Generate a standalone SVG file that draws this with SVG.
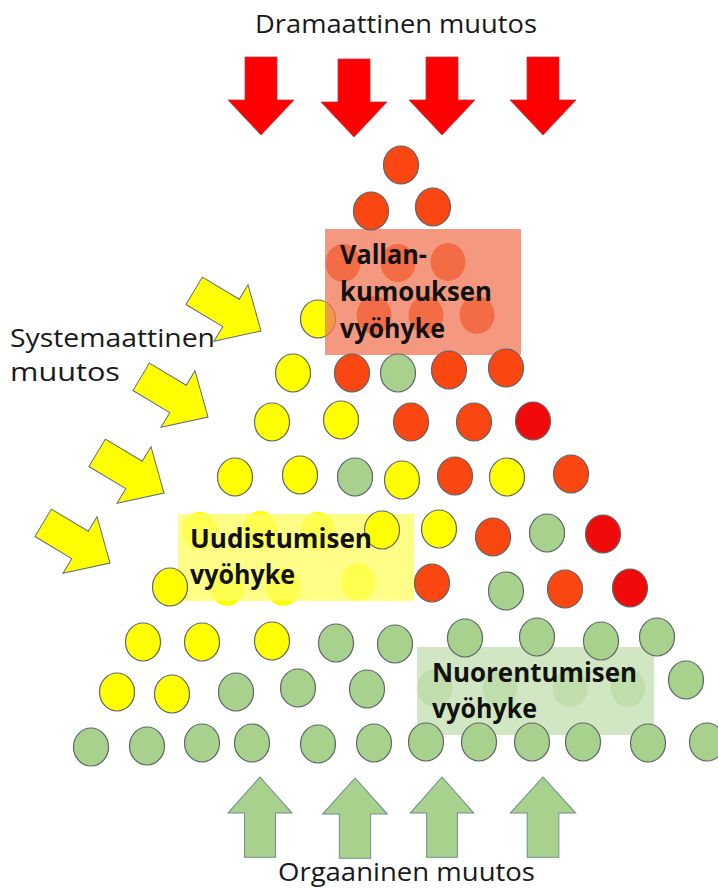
<svg xmlns="http://www.w3.org/2000/svg" width="718" height="890" viewBox="0 0 718 890">
  <style>
    .lbl { font-family: "Open Sans", "Noto Sans", "Liberation Sans", sans-serif; font-size: 25px; fill: #1a1a1a; }
    .zone { font-family: "Open Sans", "Noto Sans", "Liberation Sans", sans-serif; font-size: 26px; font-weight: 700; fill: #111; }
    ellipse { stroke: #5d6668; stroke-width: 1.2; }
    #dots-under ellipse.hidden { stroke: none; }
    .r { fill: #fa4610; }
    .br { fill: #f00a0a; }
    .y { fill: #ffff00; }
    .g { fill: #a9d18e; }
    .ar-red { fill: #ff0000; stroke: #b23a48; stroke-width: 0.8; }
    .ar-green { fill: #a9d18e; stroke: #6f8f85; stroke-width: 1; }
    .ar-yellow { fill: #ffff00; stroke: #5f6b80; stroke-width: 1; }
  </style>
  <defs>
    <!-- block arrow pointing right, tip at the origin -->
    <path id="blockArrow" d="M-78,-16 L-35,-16 L-35,-33 L0,0 L-35,33 L-35,16 L-78,16 Z"/>
  </defs>

  <rect width="718" height="890" fill="#ffffff"/>

  <!-- captions -->
  <g id="label-dramatic">
    <text class="lbl" x="255" y="33" textLength="282" lengthAdjust="spacingAndGlyphs">Dramaattinen muutos</text>
  </g>
  <g id="label-systematic">
    <text class="lbl" x="10" y="347" textLength="205" lengthAdjust="spacingAndGlyphs">Systemaattinen</text>
    <text class="lbl" x="10" y="381" textLength="110" lengthAdjust="spacingAndGlyphs">muutos</text>
  </g>
  <g id="label-organic">
    <text class="lbl" x="278" y="881" textLength="257" lengthAdjust="spacingAndGlyphs">Orgaaninen muutos</text>
  </g>

  <!-- pressure arrows -->
  <g id="arrows">
    <g id="arrows-down">
      <use href="#blockArrow" class="ar-red" transform="translate(261,135) rotate(90)"/>
      <use href="#blockArrow" class="ar-red" transform="translate(354,137) rotate(90)"/>
      <use href="#blockArrow" class="ar-red" transform="translate(442,135) rotate(90)"/>
      <use href="#blockArrow" class="ar-red" transform="translate(543,135) rotate(90)"/>
    </g>
    <g id="arrows-diagonal">
      <use href="#blockArrow" class="ar-yellow" transform="translate(261,331) rotate(31)"/>
      <use href="#blockArrow" class="ar-yellow" transform="translate(208,417) rotate(31)"/>
      <use href="#blockArrow" class="ar-yellow" transform="translate(164,493) rotate(31)"/>
      <use href="#blockArrow" class="ar-yellow" transform="translate(110,563) rotate(31)"/>
    </g>
    <g id="arrows-up">
      <use href="#blockArrow" class="ar-green" transform="translate(260,777) rotate(-90) scale(1.03,0.97)"/>
      <use href="#blockArrow" class="ar-green" transform="translate(355,778) rotate(-90) scale(1.03,0.98)"/>
      <use href="#blockArrow" class="ar-green" transform="translate(442,777) rotate(-90) scale(1.03,0.96)"/>
      <use href="#blockArrow" class="ar-green" transform="translate(543,777) rotate(-90) scale(1.03,0.99)"/>
    </g>
  </g>

  <!-- circles lying beneath the zone panels -->
  <g id="dots-under">
    <!-- row 3 (revolution zone) -->
    <ellipse class="r hidden" cx="343" cy="263" rx="17.5" ry="19"/>
    <ellipse class="r hidden" cx="398" cy="263" rx="17.5" ry="19"/>
    <ellipse class="r hidden" cx="448" cy="262" rx="17.5" ry="19"/>
    <!-- row 4 -->
    <ellipse class="y" cx="318" cy="319" rx="17.5" ry="19"/>
    <ellipse class="r hidden" cx="374" cy="315" rx="17.5" ry="19"/>
    <ellipse class="r hidden" cx="426" cy="315" rx="17.5" ry="19"/>
    <ellipse class="r hidden" cx="477" cy="315" rx="17.5" ry="19"/>
    <!-- rows 8-9 (renewal zone) -->
    <ellipse class="y hidden" cx="200" cy="531" rx="17.5" ry="19"/>
    <ellipse class="y hidden" cx="260" cy="530" rx="17.5" ry="19"/>
    <ellipse class="y hidden" cx="318" cy="531" rx="17.5" ry="19"/>
    <ellipse class="y hidden" cx="227" cy="587" rx="17.5" ry="19"/>
    <ellipse class="y hidden" cx="283" cy="587" rx="17.5" ry="19"/>
    <ellipse class="y hidden" cx="358" cy="582" rx="17.5" ry="19"/>
    <!-- row 11 (rejuvenation zone) -->
    <ellipse class="g hidden" cx="435" cy="688" rx="17.5" ry="19"/>
    <ellipse class="g hidden" cx="500" cy="688" rx="17.5" ry="19"/>
    <ellipse class="g hidden" cx="570" cy="688" rx="17.5" ry="19"/>
    <ellipse class="g hidden" cx="628" cy="688" rx="17.5" ry="19"/>
  </g>

  <!-- zone panels -->
  <g id="zone-revolution">
    <rect x="325" y="229" width="196" height="126" fill="#f17958" fill-opacity="0.76"/>
    <text class="zone" x="340" y="264" textLength="87" lengthAdjust="spacingAndGlyphs">Vallan-</text>
    <text class="zone" x="340" y="301" textLength="152" lengthAdjust="spacingAndGlyphs">kumouksen</text>
    <text class="zone" x="340" y="338" textLength="105" lengthAdjust="spacingAndGlyphs">vyöhyke</text>
  </g>
  <g id="zone-renewal">
    <rect x="178" y="514" width="236" height="87" fill="#ffff66" fill-opacity="0.78"/>
  </g>
  <g id="zone-rejuvenation">
    <rect x="417" y="647" width="237" height="88" fill="#c5e0b4" fill-opacity="0.8"/>
  </g>

  <!-- circles in front -->
  <g id="dots">
    <!-- row 1 -->
    <ellipse class="r" cx="401" cy="165" rx="17.5" ry="19"/>
    <!-- row 2 -->
    <ellipse class="r" cx="371" cy="211" rx="17.5" ry="19"/>
    <ellipse class="r" cx="433" cy="207" rx="17.5" ry="19"/>
    <!-- row 5 -->
    <ellipse class="y" cx="293" cy="373" rx="17.5" ry="19"/>
    <ellipse class="r" cx="352" cy="373" rx="17.5" ry="19"/>
    <ellipse class="g" cx="398" cy="373" rx="17.5" ry="19"/>
    <ellipse class="r" cx="449" cy="370" rx="17.5" ry="19"/>
    <ellipse class="r" cx="506" cy="368" rx="17.5" ry="19"/>
    <!-- row 6 -->
    <ellipse class="y" cx="272" cy="422" rx="17.5" ry="19"/>
    <ellipse class="y" cx="341" cy="420" rx="17.5" ry="19"/>
    <ellipse class="r" cx="411" cy="422" rx="17.5" ry="19"/>
    <ellipse class="r" cx="474" cy="422" rx="17.5" ry="19"/>
    <ellipse class="br" cx="533" cy="421" rx="17.5" ry="19"/>
    <!-- row 7 -->
    <ellipse class="y" cx="235" cy="477" rx="17.5" ry="19"/>
    <ellipse class="y" cx="300" cy="475" rx="17.5" ry="19"/>
    <ellipse class="g" cx="355" cy="477" rx="17.5" ry="19"/>
    <ellipse class="y" cx="402" cy="480" rx="17.5" ry="19"/>
    <ellipse class="r" cx="455" cy="476" rx="17.5" ry="19"/>
    <ellipse class="y" cx="507" cy="477" rx="17.5" ry="19"/>
    <ellipse class="r" cx="571" cy="474" rx="17.5" ry="19"/>
    <!-- row 8 -->
    <ellipse class="y" cx="382" cy="530" rx="17.5" ry="19"/>
    <ellipse class="y" cx="439" cy="529" rx="17.5" ry="19"/>
    <ellipse class="r" cx="493" cy="537" rx="17.5" ry="19"/>
    <ellipse class="g" cx="547" cy="533" rx="17.5" ry="19"/>
    <ellipse class="br" cx="603" cy="534" rx="17.5" ry="19"/>
    <!-- row 9 -->
    <ellipse class="y" cx="170" cy="587" rx="17.5" ry="19"/>
    <ellipse class="r" cx="432" cy="583" rx="17.5" ry="19"/>
    <ellipse class="g" cx="506" cy="591" rx="17.5" ry="19"/>
    <ellipse class="r" cx="565" cy="589" rx="17.5" ry="19"/>
    <ellipse class="br" cx="630" cy="588" rx="17.5" ry="19"/>
    <!-- row 10 -->
    <ellipse class="y" cx="143" cy="642" rx="17.5" ry="19"/>
    <ellipse class="y" cx="202" cy="642" rx="17.5" ry="19"/>
    <ellipse class="y" cx="272" cy="641" rx="17.5" ry="19"/>
    <ellipse class="g" cx="336" cy="643" rx="17.5" ry="19"/>
    <ellipse class="g" cx="395" cy="644" rx="17.5" ry="19"/>
    <ellipse class="g" cx="465" cy="638" rx="17.5" ry="19"/>
    <ellipse class="g" cx="537" cy="637" rx="17.5" ry="19"/>
    <ellipse class="g" cx="601" cy="641" rx="17.5" ry="19"/>
    <ellipse class="g" cx="657" cy="637" rx="17.5" ry="19"/>
    <!-- row 11 -->
    <ellipse class="y" cx="117" cy="692" rx="17.5" ry="19"/>
    <ellipse class="y" cx="172" cy="694" rx="17.5" ry="19"/>
    <ellipse class="g" cx="236" cy="692" rx="17.5" ry="19"/>
    <ellipse class="g" cx="298" cy="688" rx="17.5" ry="19"/>
    <ellipse class="g" cx="367" cy="689" rx="17.5" ry="19"/>
    <ellipse class="g" cx="686" cy="680" rx="17.5" ry="19"/>
    <!-- row 12 -->
    <ellipse class="g" cx="91" cy="747" rx="17.5" ry="19"/>
    <ellipse class="g" cx="147" cy="746" rx="17.5" ry="19"/>
    <ellipse class="g" cx="202" cy="743" rx="17.5" ry="19"/>
    <ellipse class="g" cx="252" cy="743" rx="17.5" ry="19"/>
    <ellipse class="g" cx="318" cy="744" rx="17.5" ry="19"/>
    <ellipse class="g" cx="374" cy="743" rx="17.5" ry="19"/>
    <ellipse class="g" cx="426" cy="742" rx="17.5" ry="19"/>
    <ellipse class="g" cx="479" cy="742" rx="17.5" ry="19"/>
    <ellipse class="g" cx="532" cy="742" rx="17.5" ry="19"/>
    <ellipse class="g" cx="583" cy="742" rx="17.5" ry="19"/>
    <ellipse class="g" cx="648" cy="743" rx="17.5" ry="19"/>
    <ellipse class="g" cx="707" cy="742" rx="17.5" ry="19"/>
  </g>

  <!-- zone titles -->
  <g id="zone-renewal-label">
    <text class="zone" x="190" y="548" textLength="182" lengthAdjust="spacingAndGlyphs">Uudistumisen</text>
    <text class="zone" x="190" y="584" textLength="105" lengthAdjust="spacingAndGlyphs">vyöhyke</text>
  </g>
  <g id="zone-rejuvenation-label">
    <text class="zone" x="432" y="682" textLength="205" lengthAdjust="spacingAndGlyphs">Nuorentumisen</text>
    <text class="zone" x="432" y="718" textLength="105" lengthAdjust="spacingAndGlyphs">vyöhyke</text>
  </g>
</svg>
